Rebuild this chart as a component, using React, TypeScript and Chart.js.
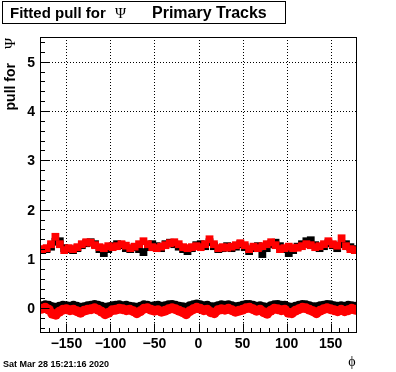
import React, { useEffect, useRef } from "react";
import { Chart, registerables } from "chart.js";

Chart.register(...registerables);

// Upper band bin centres (5 degree bins)
const phiUpper: number[] = [
  -177.5, -172.5, -167.5, -162.5, -157.5, -152.5, -147.5, -142.5, -137.5, -132.5, -127.5, -122.5,
  -117.5, -112.5, -107.5, -102.5, -97.5, -92.5, -87.5, -82.5, -77.5, -72.5, -67.5, -62.5,
  -57.5, -52.5, -47.5, -42.5, -37.5, -32.5, -27.5, -22.5, -17.5, -12.5, -7.5, -2.5,
  2.5, 7.5, 12.5, 17.5, 22.5, 27.5, 32.5, 37.5, 42.5, 47.5, 52.5, 57.5,
  62.5, 67.5, 72.5, 77.5, 82.5, 87.5, 92.5, 97.5, 102.5, 107.5, 112.5, 117.5,
  122.5, 127.5, 132.5, 137.5, 142.5, 147.5, 152.5, 157.5, 162.5, 167.5, 172.5, 177.5,
];
const redUpper: number[] = [
  1.20, 1.22, 1.30, 1.45, 1.30, 1.18, 1.22, 1.20, 1.24, 1.30, 1.34, 1.33,
  1.28, 1.24, 1.22, 1.26, 1.24, 1.26, 1.30, 1.27, 1.22, 1.25, 1.30, 1.36,
  1.30, 1.24, 1.22, 1.25, 1.28, 1.32, 1.34, 1.30, 1.24, 1.22, 1.24, 1.26,
  1.24, 1.30, 1.40, 1.30, 1.22, 1.24, 1.23, 1.25, 1.28, 1.32, 1.28, 1.20,
  1.25, 1.22, 1.26, 1.30, 1.34, 1.28, 1.20, 1.22, 1.25, 1.22, 1.23, 1.26,
  1.30, 1.28, 1.24, 1.26, 1.30, 1.36, 1.30, 1.27, 1.42, 1.26, 1.20, 1.18,
];
const blackUpper: number[] = [
  1.18, 1.20, 1.25, 1.35, 1.36, 1.22, 1.20, 1.18, 1.22, 1.28, 1.32, 1.34,
  1.30, 1.20, 1.12, 1.20, 1.26, 1.30, 1.28, 1.22, 1.20, 1.24, 1.20, 1.14,
  1.24, 1.30, 1.26, 1.22, 1.30, 1.33, 1.30, 1.25, 1.20, 1.16, 1.22, 1.28,
  1.30, 1.26, 1.34, 1.26, 1.20, 1.22, 1.26, 1.22, 1.25, 1.30, 1.24, 1.16,
  1.22, 1.26, 1.10, 1.22, 1.30, 1.33, 1.26, 1.20, 1.12, 1.18, 1.25, 1.30,
  1.36, 1.38, 1.28, 1.22, 1.26, 1.32, 1.28, 1.22, 1.30, 1.30, 1.24, 1.20,
];

// Lower band bin centres (4 degree bins)
const phiLower: number[] = [
  -178, -174, -170, -166, -162, -158, -154, -150, -146, -142,
  -138, -134, -130, -126, -122, -118, -114, -110, -106, -102,
  -98, -94, -90, -86, -82, -78, -74, -70, -66, -62,
  -58, -54, -50, -46, -42, -38, -34, -30, -26, -22,
  -18, -14, -10, -6, -2, 2, 6, 10, 14, 18,
  22, 26, 30, 34, 38, 42, 46, 50, 54, 58,
  62, 66, 70, 74, 78, 82, 86, 90, 94, 98,
  102, 106, 110, 114, 118, 122, 126, 130, 134, 138,
  142, 146, 150, 154, 158, 162, 166, 170, 174, 178,
];
const redLower: number[] = [
  -0.01, 0.01, -0.03, -0.11, -0.13, -0.07, -0.03, -0.02, -0.04, -0.03,
  -0.06, -0.09, -0.05, -0.03, -0.02, 0.00, -0.03, -0.07, -0.12, -0.09,
  -0.04, -0.03, -0.01, -0.02, -0.04, -0.03, -0.06, -0.10, -0.06, -0.01,
  0.00, -0.03, -0.05, -0.04, -0.07, -0.05, -0.02, 0.00, -0.02, -0.05,
  -0.08, -0.12, -0.06, -0.02, 0.01, -0.01, -0.04, -0.03, -0.08, -0.10,
  -0.04, -0.02, -0.03, -0.01, -0.04, -0.07, -0.05, -0.03, 0.00, 0.01,
  -0.02, -0.05, -0.03, -0.08, -0.11, -0.05, -0.01, -0.02, -0.04, -0.03,
  -0.09, -0.10, -0.05, -0.02, 0.01, 0.00, -0.03, -0.06, -0.10, -0.05,
  -0.02, 0.00, -0.02, -0.04, -0.06, -0.03, -0.06, -0.04, -0.01, -0.03,
];
const blackLower: number[] = [
  0.04, 0.06, 0.05, 0.02, 0.01, 0.03, 0.05, 0.04, 0.03, 0.05,
  0.03, 0.01, 0.02, 0.04, 0.05, 0.07, 0.05, 0.03, 0.01, 0.02,
  0.04, 0.05, 0.06, 0.04, 0.05, 0.03, 0.02, 0.01, 0.03, 0.06,
  0.05, 0.03, 0.04, 0.05, 0.03, 0.04, 0.06, 0.07, 0.05, 0.03,
  0.02, 0.01, 0.04, 0.06, 0.08, 0.06, 0.04, 0.05, 0.02, 0.02,
  0.04, 0.06, 0.05, 0.06, 0.04, 0.02, 0.03, 0.05, 0.07, 0.07,
  0.05, 0.03, 0.04, 0.02, 0.01, 0.04, 0.06, 0.07, 0.05, 0.05,
  0.02, 0.01, 0.03, 0.05, 0.07, 0.06, 0.04, 0.02, 0.02, 0.04,
  0.05, 0.07, 0.06, 0.04, 0.03, 0.04, 0.03, 0.05, 0.04, 0.03,
];

const xMajorTicks: number[] = [-150, -100, -50, 0, 50, 100, 150];
const xTickLabels: string[] = ["\u2212150", "\u2212100", "\u221250", "0", "50", "100", "150"];
const yMajorTicks: number[] = [0, 1, 2, 3, 4, 5];
const yTickLabels: string[] = ["0", "1", "2", "3", "4", "5"];
const X_MIN = -180, X_MAX = 180, Y_MIN = -0.5, Y_MAX = 5.5;
const X_MINOR_STEP = 10, Y_MINOR_STEP = 0.2;

const titleParts = { a: "Fitted pull for", psi: "\u03A8", b: "Primary Tracks" };
const yTitle = "pull for";
const xTitle = "\u03D5";
const dateText = "Sat Mar 28 15:21:16 2020";

const rootPlugin = {
  id: "rootStyle",
  beforeDatasetsDraw(chart: any) {
    const { ctx, chartArea: a, scales } = chart;
    const xs = scales.x, ys = scales.y;
    ctx.save();
    ctx.strokeStyle = "#000";
    ctx.lineWidth = 1;
    ctx.setLineDash([1, 2]);
    for (const v of xMajorTicks) {
      const px = Math.round(xs.getPixelForValue(v)) + 0.5;
      ctx.beginPath();
      ctx.moveTo(px, a.top);
      ctx.lineTo(px, a.bottom);
      ctx.stroke();
    }
    for (const v of yMajorTicks) {
      const py = Math.round(ys.getPixelForValue(v)) + 0.5;
      ctx.beginPath();
      ctx.moveTo(a.left, py);
      ctx.lineTo(a.right, py);
      ctx.stroke();
    }
    ctx.restore();
  },
  afterDraw(chart: any) {
    const { ctx, chartArea: a, scales } = chart;
    const xs = scales.x, ys = scales.y;
    ctx.save();
    ctx.strokeStyle = "#000";
    ctx.fillStyle = "#000";
    ctx.lineWidth = 1;
    ctx.setLineDash([]);
    // frame
    const L = Math.round(a.left) + 0.5, R = Math.round(a.right) - 0.5;
    const T = Math.round(a.top) + 0.5, B = Math.round(a.bottom) - 0.5;
    ctx.strokeRect(L, T, R - L, B - T);
    // x ticks
    for (let v = X_MIN + X_MINOR_STEP; v < X_MAX; v += X_MINOR_STEP) {
      const major = Math.abs(v % 50) < 1e-6;
      const px = Math.round(xs.getPixelForValue(v)) + 0.5;
      ctx.beginPath();
      ctx.moveTo(px, B);
      ctx.lineTo(px, B - (major ? 9 : 4.5));
      ctx.stroke();
    }
    // y ticks
    for (let v = -0.4; v < Y_MAX - 0.01; v += Y_MINOR_STEP) {
      const r = Math.round(v * 10) / 10;
      const major = Math.abs(r - Math.round(r)) < 1e-6;
      const py = Math.round(ys.getPixelForValue(r)) + 0.5;
      ctx.beginPath();
      ctx.moveTo(L, py);
      ctx.lineTo(L + (major ? 9 : 4.5), py);
      ctx.stroke();
    }
    // tick labels
    ctx.font = "bold 14px 'Liberation Sans', Arial, sans-serif";
    ctx.textAlign = "center";
    ctx.textBaseline = "alphabetic";
    xMajorTicks.forEach((v, i) => {
      ctx.fillText(xTickLabels[i], xs.getPixelForValue(v), 348);
    });
    ctx.textAlign = "right";
    ctx.textBaseline = "middle";
    yMajorTicks.forEach((v, i) => {
      ctx.fillText(yTickLabels[i], 35, ys.getPixelForValue(v) + 1);
    });
    // x title
    ctx.font = "14px 'Liberation Serif', 'DejaVu Serif', serif";
    ctx.textAlign = "center";
    ctx.textBaseline = "alphabetic";
    ctx.fillText(xTitle, 352, 366);
    // date
    ctx.font = "bold 9px 'Liberation Sans', Arial, sans-serif";
    ctx.textAlign = "left";
    ctx.fillText(dateText, 3, 367);
    // y title (rotated)
    ctx.save();
    ctx.translate(15, 37);
    ctx.rotate(-Math.PI / 2);
    ctx.textAlign = "right";
    ctx.textBaseline = "alphabetic";
    ctx.font = "15px 'Liberation Serif', 'Times New Roman', serif";
    ctx.fillText(titleParts.psi, -1, 0);
    ctx.font = "bold 14px 'Liberation Sans', Arial, sans-serif";
    ctx.fillText(yTitle, -26, 0);
    ctx.restore();
    // title box
    ctx.fillStyle = "#fff";
    ctx.fillRect(3, 2, 282, 21);
    ctx.strokeStyle = "#000";
    ctx.strokeRect(2.5, 1.5, 283, 22);
    ctx.fillStyle = "#000";
    ctx.textAlign = "left";
    ctx.font = "bold 15px 'Liberation Sans', Arial, sans-serif";
    ctx.fillText(titleParts.a, 10, 18);
    ctx.font = "15px 'Liberation Serif', 'Times New Roman', serif";
    ctx.fillText(titleParts.psi, 115, 18);
    ctx.font = "bold 16px 'Liberation Sans', Arial, sans-serif";
    ctx.fillText(titleParts.b, 152, 18);
    ctx.restore();
  },
};

export default function App() {
  const ref = useRef<HTMLCanvasElement | null>(null);
  useEffect(() => {
    if (!ref.current) return;
    const toXY = (xs: number[], ys: number[]) => xs.map((x, i) => ({ x, y: ys[i] }));
    const chart = new Chart(ref.current, {
      type: "scatter",
      data: {
        datasets: [
          {
            label: "red upper",
            data: toXY(phiUpper, redUpper),
            pointStyle: "rect",
            pointRadius: 5.5,
            backgroundColor: "#ff0000",
            borderColor: "#ff0000",
            borderWidth: 0,
            order: 0,
          },
          {
            label: "red lower",
            data: toXY(phiLower, redLower),
            pointStyle: "circle",
            pointRadius: 5,
            backgroundColor: "#ff0000",
            borderColor: "#ff0000",
            borderWidth: 0,
            order: 0,
          },
          {
            label: "black upper",
            data: toXY(phiUpper, blackUpper),
            pointStyle: "rect",
            pointRadius: 5.5,
            backgroundColor: "#000000",
            borderColor: "#000000",
            borderWidth: 0,
            order: 1,
          },
          {
            label: "black lower",
            data: toXY(phiLower, blackLower),
            pointStyle: "circle",
            pointRadius: 5,
            backgroundColor: "#000000",
            borderColor: "#000000",
            borderWidth: 0,
            order: 1,
          },
        ],
      },
      options: {
        animation: false,
        responsive: false,
        maintainAspectRatio: false,
        events: [],
        layout: { padding: { left: 40, top: 37, right: 39, bottom: 39 } },
        plugins: { legend: { display: false }, tooltip: { enabled: false }, title: { display: false } },
        scales: {
          x: { type: "linear", min: X_MIN, max: X_MAX, display: false },
          y: { type: "linear", min: Y_MIN, max: Y_MAX, display: false },
        },
      },
      plugins: [rootPlugin],
    });
    return () => chart.destroy();
  }, []);
  return (
    <div style={{ position: "fixed", left: 0, top: 0, width: 396, height: 372, background: "#fff" }}>
      <canvas ref={ref} width={396} height={372} style={{ display: "block", width: 396, height: 372 }} />
    </div>
  );
}
